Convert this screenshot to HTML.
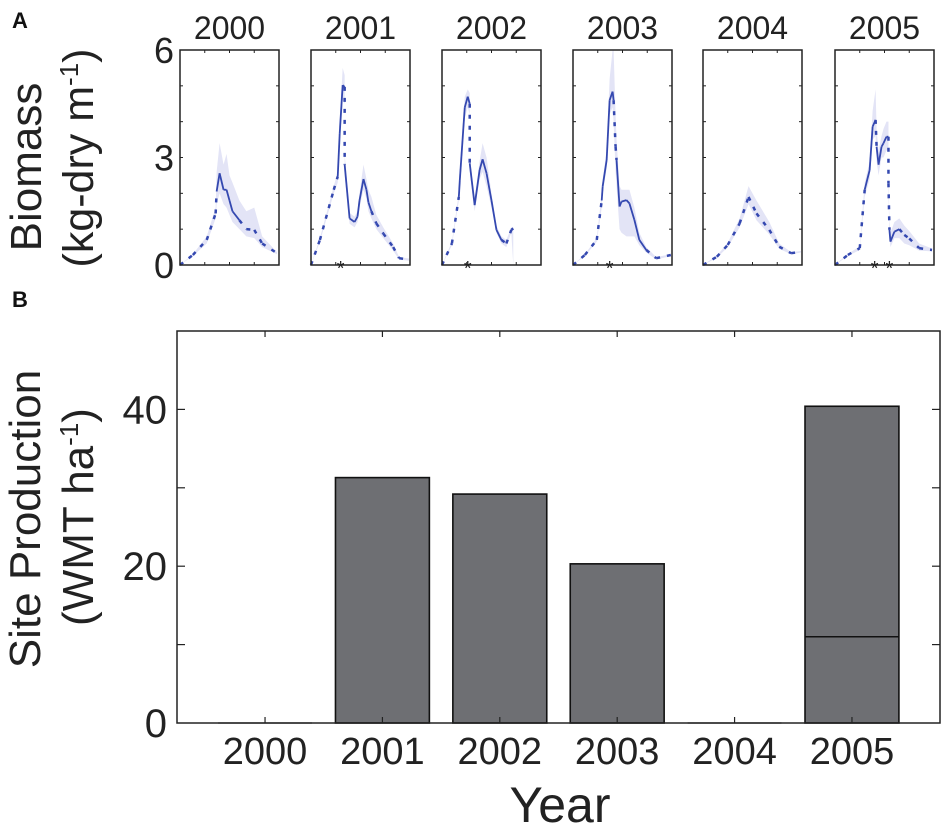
<!DOCTYPE html>
<html><head><meta charset="utf-8">
<style>
html,body{margin:0;padding:0;background:#fff;}
svg{display:block;font-family:"Liberation Sans",Arial,sans-serif;}
</style></head>
<body>
<svg id="fig" width="945" height="827" viewBox="0 0 945 827" xmlns="http://www.w3.org/2000/svg">
<text x="12" y="28" font-size="22" font-weight="bold" fill="#111">A</text>
<text x="12" y="307" font-size="22" font-weight="bold" fill="#111">B</text>
<text transform="translate(41,167) rotate(-90)" text-anchor="middle" font-size="44" fill="#222">Biomass</text>
<text transform="translate(93,158) rotate(-90)" text-anchor="middle" font-size="43" fill="#222">(kg-dry m<tspan font-size="26" dy="-15">-1</tspan><tspan dy="15">)</tspan></text>
<text transform="translate(40,519) rotate(-90)" text-anchor="middle" font-size="44" fill="#222">Site Production</text>
<text transform="translate(93,517) rotate(-90)" text-anchor="middle" font-size="44" fill="#222">(WMT ha<tspan font-size="26" dy="-15">-1</tspan><tspan dy="15">)</tspan></text>
<g id="topPanels"></g>
<g id="bottomPanel"></g>
</svg>
<script>
// ---------- Panel A data ----------
const years = ["2000","2001","2002","2003","2004","2005"];
const bmYTicks = [0,3,6];
const x2000 = [0,.13,.27,.36,.37,.40,.44,.47,.50,.53,.60,.67,.75,.83,.98];
const y2000 = [0,.28,.7,1.44,2.05,2.56,2.1,2.1,1.8,1.5,1.25,1.0,.98,.6,.33];
const lo2000 = [0,.25,.6,1.3,1.7,2.0,1.7,1.6,1.4,1.2,1.0,.8,.75,.5,.3];
const hi2000 = [0,.3,.8,1.6,2.6,3.4,2.8,3.1,2.5,2.3,1.8,1.5,1.6,.8,.36];
const s2000 = "ddddssssssdddd";
const star2000 = [];

const x2001 = [0,.09,.23,.27,.29,.32,.34,.34,.39,.44,.47,.49,.53,.56,.58,.61,.66,.73,.83,.89,.99];
const y2001 = [0,.7,2.1,2.47,3.67,5.02,4.97,2.8,1.3,1.2,1.35,1.8,2.4,2.1,1.75,1.5,1.16,.88,.5,.19,.15];
const lo2001 = [0,.65,2.0,2.3,3.4,4.6,4.5,2.5,1.15,1.05,1.2,1.6,2.1,1.85,1.5,1.3,1.0,.75,.4,.15,.12];
const hi2001 = [0,.75,2.2,2.6,4.0,5.5,5.3,3.1,1.45,1.35,1.5,2.0,2.8,2.4,2.1,1.9,1.4,1.05,.6,.22,.18];
const s2001 = "dddsssdssssssssdddddd";
const star2001 = [.30];

const x2002 = [0,.1,.17,.18,.23,.26,.28,.28,.33,.38,.41,.45,.50,.55,.60,.65,.70,.72];
const y2002 = [0,.6,1.9,2.37,4.4,4.7,4.5,2.84,1.67,2.65,2.95,2.56,1.8,.98,.7,.6,.98,1.02];
const lo2002 = [0,.55,1.8,2.2,4.1,4.4,4.2,2.6,1.5,2.4,2.6,2.2,1.6,.9,.6,.5,.9,0];
const hi2002 = [0,.65,2.0,2.5,4.7,4.9,4.8,3.0,1.85,2.9,3.4,3.0,2.0,1.1,.8,.7,1.05,1.05];
const s2002 = "ddssssdsssssssddd";
const star2002 = [.26];

const x2003 = [0,.12,.24,.29,.30,.34,.37,.40,.41,.43,.44,.47,.49,.54,.57,.62,.67,.74,.84,.99];
const y2003 = [0,.28,.7,1.8,2.2,2.93,4.6,4.84,4.6,3.3,2.93,1.63,1.77,1.81,1.72,1.26,.7,.42,.19,.28];
const lo2003 = [0,.25,.65,1.6,2.0,2.7,4.2,4.4,4.0,2.6,2.2,1.0,.9,.8,.8,.8,.55,.35,.15,.25];
const hi2003 = [0,.3,.75,2.0,2.4,3.2,5.2,6.0,6.0,4.2,3.5,2.2,2.1,2.1,2.1,1.6,.9,.5,.22,.3];
const s2003 = "dddsssssddsssssssdd";
const star2003 = [.37];

const x2004 = [0,.14,.25,.37,.46,.54,.67,.77,.89,.99];
const y2004 = [0,.23,.56,1.16,1.9,1.44,.98,.51,.33,.37];
const lo2004 = [0,.2,.5,1.05,1.7,1.25,.85,.45,.3,.35];
const hi2004 = [0,.26,.62,1.3,2.2,1.8,1.2,.6,.36,.39];
const s2004 = "ddddddddd";
const star2004 = [];

const x2005 = [0,.13,.25,.30,.35,.38,.41,.42,.44,.47,.49,.52,.54,.54,.55,.56,.60,.65,.70,.75,.85,.98];
const y2005 = [0,.28,.47,2.1,2.65,3.86,4.05,3.3,2.8,3.3,3.4,3.58,3.58,2.28,.98,.65,.93,1.0,.84,.74,.47,.42];
const lo2005 = [0,.25,.42,1.9,2.4,3.5,3.6,2.9,2.5,3.0,3.0,3.2,3.2,2.0,.8,.5,.75,.75,.6,.55,.4,.38];
const hi2005 = [0,.31,.52,2.3,2.9,4.3,4.9,3.8,3.2,3.6,3.8,4.0,4.0,2.6,1.2,.9,1.2,1.3,1.1,.95,.6,.46];
const s2005 = "dddsssdsssssddsssdddd";
const star2005 = [.40,.55];

const seriesX = [x2000,x2001,x2002,x2003,x2004,x2005];
const seriesY = [y2000,y2001,y2002,y2003,y2004,y2005];
const seriesLo = [lo2000,lo2001,lo2002,lo2003,lo2004,lo2005];
const seriesHi = [hi2000,hi2001,hi2002,hi2003,hi2004,hi2005];
const seriesStyle = [s2000,s2001,s2002,s2003,s2004,s2005];
const seriesStars = [star2000,star2001,star2002,star2003,star2004,star2005];

// ---------- Panel B data ----------
const barCats = ["2000","2001","2002","2003","2004","2005"];
const barTotal = [0,31.3,29.2,20.3,0,40.4];
const barInner = [0,0,0,0,0,11.0];
const prodYTicks = [0,20,40];

const NS="http://www.w3.org/2000/svg";
function mk(tag,attrs,parent){const e=document.createElementNS(NS,tag);for(const k in attrs)e.setAttribute(k,attrs[k]);parent.appendChild(e);return e;}

// ---- top panels ----
const topG=document.getElementById('topPanels');
const pLeft=[180,311,442,573,703,835], pW=99, pTop=50, pBot=265, yMax=6;
years.forEach((yr,i)=>{
  const L=pLeft[i];
  const sx=v=>L+v*pW, sy=v=>pBot-Math.min(v,yMax)/yMax*(pBot-pTop);
  const g=mk('g',{},topG);
  
  
  const t=mk('text',{x:L+pW/2,y:39,'text-anchor':'middle','font-size':32,fill:'#222'},g);
  t.textContent=yr;
  
  
  const xs=seriesX[i],ys=seriesY[i],lo=seriesLo[i],hi=seriesHi[i],st=seriesStyle[i];
  let d='M'+xs.map((x,k)=>sx(x)+','+sy(hi[k])).join('L');
  for(let k=xs.length-1;k>=0;k--) d+='L'+sx(xs[k])+','+sy(lo[k]);
  const band=mk('path',{d:d+'Z',fill:'#e3e4f6',stroke:'none'},g);
  
  
  for(let k=0;k<xs.length-1;k++){
    const solid=st.charAt(k)==='s';
    const seg=mk('line',{x1:sx(xs[k]),y1:sy(ys[k]),x2:sx(xs[k+1]),y2:sy(ys[k+1]),stroke:'#3448b0','stroke-width':solid?1.8:2.5},g);
    if(!solid) seg.setAttribute('stroke-dasharray','4 7');
    
    
  }
  seriesStars[i].forEach(s=>{
    const a=mk('text',{x:sx(s),y:pBot+10,'text-anchor':'middle','font-size':20,fill:'#222'},g);
    a.textContent='*';
    
    
  });
  for(let v=1;v<yMax;v++){
    mk('line',{x1:L,x2:L+3,y1:sy(v),y2:sy(v),stroke:'#222','stroke-width':1},g);
    mk('line',{x1:L+pW,x2:L+pW-3,y1:sy(v),y2:sy(v),stroke:'#222','stroke-width':1},g);
  }
  [.25,.5,.75].forEach(f=>{
    mk('line',{x1:sx(f),x2:sx(f),y1:pTop,y2:pTop+3,stroke:'#222','stroke-width':1},g);
    mk('line',{x1:sx(f),x2:sx(f),y1:pBot,y2:pBot-3,stroke:'#222','stroke-width':1},g);
  });
  const box=mk('rect',{x:L,y:pTop,width:pW,height:pBot-pTop,fill:'none',stroke:'#222','stroke-width':1.5},g);
  
  
});
bmYTicks.forEach(v=>{
  const y=pBot-v/yMax*(pBot-pTop);
  const t=mk('text',{x:174,y:y+13,'text-anchor':'end','font-size':36,fill:'#222'},topG);
  t.textContent=v;
  
  
});

// ---- bottom panel ----
const botG=document.getElementById('bottomPanel');
const bL=177,bR=940,bT=331,bB=723,bYMax=50,xMin=.25,xMax=6.75;
const bx=v=>bL+(v-xMin)/(xMax-xMin)*(bR-bL);
const by=v=>bB-v/bYMax*(bB-bT);
const bw=0.8*(bR-bL)/(xMax-xMin);
barCats.forEach((c,i)=>{
  const cx=bx(i+1);
  if(barTotal[i]>0){
    const r=mk('rect',{x:cx-bw/2,y:by(barTotal[i]),width:bw,height:bB-by(barTotal[i]),fill:'#6e6f73',stroke:'#111','stroke-width':1.6},botG);
    
    
  } else {
    const r=mk('line',{x1:cx-bw/2,x2:cx+bw/2,y1:bB,y2:bB,stroke:'#888','stroke-width':1.5},botG);
    
    
  }
  if(barInner[i]>0){
    const l=mk('line',{x1:cx-bw/2,x2:cx+bw/2,y1:by(barInner[i]),y2:by(barInner[i]),stroke:'#111','stroke-width':1.6},botG);
    
    
  }
  mk('line',{x1:cx,x2:cx,y1:bT,y2:bT+6,stroke:'#222','stroke-width':1.2},botG);
  mk('line',{x1:cx,x2:cx,y1:bB,y2:bB-6,stroke:'#222','stroke-width':1.2},botG);
  const t=mk('text',{x:cx,y:764,'text-anchor':'middle','font-size':38,fill:'#222'},botG);
  t.textContent=c;
  
  
});
for(let v=10;v<bYMax;v+=10){
  mk('line',{x1:bL,x2:bL+8,y1:by(v),y2:by(v),stroke:'#222','stroke-width':1.2},botG);
  mk('line',{x1:bR,x2:bR-8,y1:by(v),y2:by(v),stroke:'#222','stroke-width':1.2},botG);
}
prodYTicks.forEach(v=>{
  const t=mk('text',{x:167,y:by(v)+14,'text-anchor':'end','font-size':40,fill:'#222'},botG);
  t.textContent=v;
  
  
});
const fr=mk('rect',{x:bL,y:bT,width:bR-bL,height:bB-bT,fill:'none',stroke:'#222','stroke-width':1.5},botG);


const xt=mk('text',{x:560,y:822,'text-anchor':'middle','font-size':50,fill:'#222'},botG);
xt.textContent='Year';


</script>
</body></html>
